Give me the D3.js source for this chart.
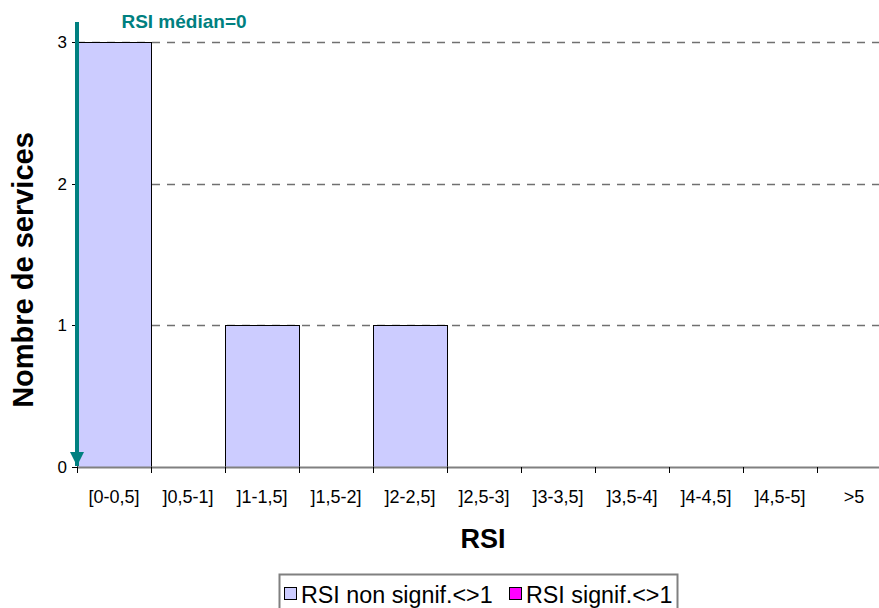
<!DOCTYPE html>
<html>
<head>
<meta charset="utf-8">
<script src="https://cdn.jsdelivr.net/npm/d3@7"></script>
<style>
html, body { margin: 0; padding: 0; background: #fff; }
svg { display: block; font-family: "Liberation Sans", Arial, sans-serif; }
</style>
</head>
<body>
<svg id="chart" width="879" height="608"></svg>
<script>
const categories = ["[0-0,5]", "]0,5-1]", "]1-1,5]", "]1,5-2]", "]2-2,5]", "]2,5-3]", "]3-3,5]", "]3,5-4]", "]4-4,5]", "]4,5-5]", ">5"];
const nonSignif = [3, 0, 1, 0, 1, 0, 0, 0, 0, 0, 0];
const signif = [0, 0, 0, 0, 0, 0, 0, 0, 0, 0, 0];
const yTicks = [0, 1, 2, 3];
const seriesNames = ["RSI non signif.<>1", "RSI signif.<>1"];
const seriesColors = ["#CCCCFF", "#FF00FF"];
const medianValue = 0;
const medianLabel = "RSI médian=0";
const xTitle = "RSI";
const yTitle = "Nombre de services";

(function () {
const svg = d3.select("#chart");
const pL = 77, pR = 891, pT = 42, pB = 467;

const x = d3.scaleBand().domain(categories).range([pL, pR]).padding(0);
const y = d3.scaleLinear().domain([0, 3]).range([pB, pT]);

// gridlines
svg.append("g").selectAll("line").data(yTicks.filter(d => d > 0)).join("line")
  .attr("x1", pL).attr("x2", pR)
  .attr("y1", d => Math.round(y(d)) + 0.5).attr("y2", d => Math.round(y(d)) + 0.5)
  .attr("stroke", "#707070").attr("stroke-width", 1.5)
  .attr("stroke-dasharray", "8,7");

// bars (stacked)
const stackData = categories.map((c, i) => ({cat: c, a: nonSignif[i], b: signif[i]}));
const stack = d3.stack().keys(["a", "b"])(stackData);
stack.forEach((layer, li) => {
  svg.append("g").selectAll("rect").data(layer.filter(d => d[1] - d[0] > 0)).join("rect")
    .attr("x", d => Math.round(x(d.data.cat)) + 0.5)
    .attr("width", Math.round(x.bandwidth()))
    .attr("y", d => Math.round(y(d[1])) + 0.5)
    .attr("height", d => Math.round(y(d[0]) - y(d[1])))
    .attr("fill", seriesColors[li])
    .attr("stroke", "#000").attr("stroke-width", 1);
});

// x axis
const gx = svg.append("g").attr("transform", `translate(0,${pB})`);
gx.append("line").attr("x1", pL).attr("x2", pR).attr("y1", 0.5).attr("y2", 0.5)
  .attr("stroke", "#808080").attr("stroke-width", 2);
gx.selectAll("line.tick").data(categories.map(c => x(c))).join("line")
  .attr("class", "tick")
  .attr("x1", d => Math.round(d) + 0.5).attr("x2", d => Math.round(d) + 0.5)
  .attr("y1", 0).attr("y2", 6).attr("stroke", "#000").attr("stroke-width", 1);
gx.selectAll("text").data(categories).join("text")
  .attr("x", d => x(d) + x.bandwidth() / 2)
  .attr("y", 36)
  .attr("text-anchor", "middle")
  .attr("font-size", 18)
  .attr("fill", "#000")
  .text(d => d);

// y axis
const gy = svg.append("g");
gy.selectAll("line").data(yTicks).join("line")
  .attr("x1", pL - 5).attr("x2", pL).attr("y1", d => Math.round(y(d)) + 0.5).attr("y2", d => Math.round(y(d)) + 0.5)
  .attr("stroke", "#000");
gy.selectAll("text").data(yTicks).join("text")
  .attr("x", 67).attr("y", d => y(d) + 6)
  .attr("text-anchor", "end").attr("font-size", 17).attr("fill", "#000")
  .text(d => d);

// median line with arrow
const defs = svg.append("defs");
defs.append("marker").attr("id", "arr").attr("viewBox", "0 0 10 10")
  .attr("refX", 10).attr("refY", 5).attr("markerWidth", 3.5).attr("markerHeight", 3.5)
  .attr("markerUnits", "strokeWidth").attr("orient", "auto")
  .append("path").attr("d", "M0,0 L10,5 L0,10 Z").attr("fill", "#008080");
const mx = x(categories[0]) + medianValue;
svg.append("line")
  .attr("x1", mx).attr("x2", mx).attr("y1", 22).attr("y2", pB - 1)
  .attr("stroke", "#008080").attr("stroke-width", 4)
  .attr("marker-end", "url(#arr)");
svg.append("text").attr("x", 184).attr("y", 28).attr("text-anchor", "middle")
  .attr("font-size", 19).attr("font-weight", "bold").attr("fill", "#008080")
  .text(medianLabel);

// titles
svg.append("text").attr("x", 483).attr("y", 548).attr("text-anchor", "middle")
  .attr("font-size", 27).attr("font-weight", "bold").text(xTitle);
svg.append("text").attr("transform", "translate(33,270) rotate(-90)")
  .attr("text-anchor", "middle").attr("font-size", 29).attr("font-weight", "bold")
  .text(yTitle);

// legend
const lg = svg.append("g");
const box = lg.append("rect").attr("y", 574.5).attr("height", 60)
  .attr("fill", "#fff").attr("stroke", "#808080").attr("stroke-width", 2);
const items = seriesNames.map((n, i) => {
  const g = lg.append("g");
  g.append("rect").attr("x", 0.5).attr("y", 587.5).attr("width", 12).attr("height", 12)
    .attr("fill", seriesColors[i]).attr("stroke", "#000");
  const t = g.append("text").attr("x", 17).attr("y", 603).attr("font-size", 23.3).text(n);
  return {g, w: 17 + t.node().getComputedTextLength()};
});
const gap = 16;
const total = d3.sum(items, d => d.w) + gap * (items.length - 1);
let cx = 478 - total / 2;
box.attr("x", Math.round(cx - 5) + 0.5).attr("width", Math.round(total + 10));
items.forEach(it => { it.g.attr("transform", `translate(${Math.round(cx)},0)`); cx += it.w + gap; });
})();
</script>
</body>
</html>
